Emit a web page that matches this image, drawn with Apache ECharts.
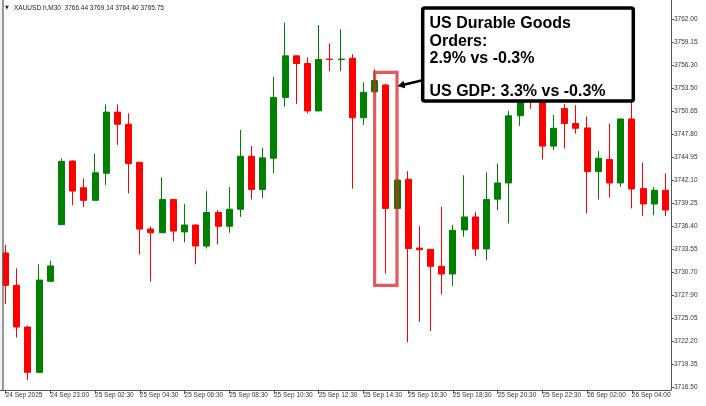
<!DOCTYPE html>
<html><head><meta charset="utf-8">
<script src="https://cdn.jsdelivr.net/npm/echarts@6/dist/echarts.min.js"></script>
<style>html,body{margin:0;padding:0;background:#fff}#c{width:706px;height:406px}</style>
</head><body><div id="c"></div>
<script>
const categories = [
 "24 Sep 21:00","24 Sep 21:30","24 Sep 22:00","24 Sep 22:30","24 Sep 23:00",
 "25 Sep 01:00","25 Sep 01:30","25 Sep 02:00","25 Sep 02:30","25 Sep 03:00","25 Sep 03:30","25 Sep 04:00","25 Sep 04:30",
 "25 Sep 05:00","25 Sep 05:30","25 Sep 06:00","25 Sep 06:30","25 Sep 07:00","25 Sep 07:30","25 Sep 08:00","25 Sep 08:30",
 "25 Sep 09:00","25 Sep 09:30","25 Sep 10:00","25 Sep 10:30","25 Sep 11:00","25 Sep 11:30","25 Sep 12:00","25 Sep 12:30",
 "25 Sep 13:00","25 Sep 13:30","25 Sep 14:00","25 Sep 14:30","25 Sep 15:00","25 Sep 15:30","25 Sep 16:00","25 Sep 16:30",
 "25 Sep 17:00","25 Sep 17:30","25 Sep 18:00","25 Sep 18:30","25 Sep 19:00","25 Sep 19:30","25 Sep 20:00","25 Sep 20:30",
 "25 Sep 21:00","25 Sep 21:30","25 Sep 22:00","25 Sep 22:30","25 Sep 23:00",
 "26 Sep 01:00","26 Sep 01:30","26 Sep 02:00","26 Sep 02:30","26 Sep 03:00","26 Sep 03:30","26 Sep 04:00","26 Sep 04:30",
 "26 Sep 05:00","26 Sep 05:30"
];
const openP  = [3733.10,3729.10,3723.95,3718.35,3729.60,3736.60,3744.45,3741.15,3739.60,3742.95,
                3750.50,3749.00,3744.30,3736.05,3735.60,3739.70,3735.70,3736.55,3733.95,3738.10,
                3736.40,3738.50,3745.05,3740.95,3744.80,3752.30,3757.45,3756.50,3750.65,3757.05,
                3757.00,3757.15,3749.80,3753.00,3753.85,3738.60,3742.20,3733.70,3733.55,3731.45,
                3730.50,3735.95,3737.55,3733.60,3739.75,3741.75,3750.05,3754.20,3753.20,3746.30,
                3750.95,3749.10,3748.55,3743.15,3744.65,3741.75,3749.65,3741.05,3739.15,3740.85];
const highP  = [3734.10,3731.20,3724.10,3731.70,3732.15,3744.80,3744.55,3742.30,3745.40,3751.45,
                3751.45,3750.35,3744.35,3736.35,3742.45,3739.75,3739.15,3736.60,3740.75,3738.40,
                3741.25,3748.30,3746.30,3746.10,3754.85,3761.55,3757.50,3757.25,3761.25,3759.00,
                3760.75,3757.65,3754.15,3755.80,3754.00,3742.20,3743.20,3736.40,3733.60,3738.80,
                3736.55,3742.70,3738.20,3743.05,3744.15,3750.65,3754.00,3755.60,3754.80,3750.15,
                3751.50,3751.35,3749.95,3745.70,3749.10,3749.70,3752.50,3744.25,3741.25,3742.95];
const lowP   = [3726.80,3722.65,3717.40,3718.30,3729.55,3736.55,3739.00,3738.80,3739.55,3741.50,
                3746.45,3740.45,3732.90,3729.55,3735.55,3734.50,3734.40,3731.70,3733.65,3734.15,
                3735.60,3737.55,3739.70,3739.90,3742.95,3751.15,3751.50,3750.35,3750.60,3755.55,
                3755.55,3741.05,3748.90,3752.95,3730.55,3738.55,3722.05,3724.60,3723.45,3728.00,
                3729.00,3735.10,3732.70,3732.20,3738.40,3736.75,3748.80,3750.90,3744.65,3745.80,
                3746.00,3747.85,3738.00,3739.70,3739.95,3741.25,3738.60,3737.65,3737.75,3737.65];
const closeP = [3729.10,3723.95,3718.35,3729.75,3731.50,3744.40,3740.75,3739.60,3743.00,3750.50,
                3749.00,3744.15,3736.05,3735.60,3739.70,3735.80,3736.55,3733.95,3738.10,3736.40,
                3738.50,3745.05,3740.95,3744.85,3752.30,3757.45,3756.50,3750.65,3757.00,3757.00,
                3757.05,3749.80,3752.95,3754.40,3738.60,3742.10,3733.65,3733.50,3731.45,3730.50,
                3735.90,3737.55,3733.60,3739.70,3741.75,3750.05,3752.60,3752.40,3746.30,3748.50,
                3749.10,3748.50,3743.15,3744.80,3741.75,3749.65,3741.00,3739.15,3740.85,3738.40];
const xTickLabels = ["24 Sep 2025","24 Sep 23:00","25 Sep 02:30","25 Sep 04:30","25 Sep 06:30","25 Sep 08:30",
  "25 Sep 10:30","25 Sep 12:30","25 Sep 14:30","25 Sep 16:30","25 Sep 18:30","25 Sep 20:30","25 Sep 22:30",
  "26 Sep 02:00","26 Sep 04:00"];
const yTickLabels = [3716.50,3719.35,3722.20,3725.05,3727.90,3730.70,3733.55,3736.40,3739.25,3742.10,
  3744.95,3747.80,3750.65,3753.50,3756.30,3759.15,3762.00];
const headerText = "XAUUSD.h,M30  3766.44 3769.14 3764.40 3765.75";
const noteLines = ["US Durable Goods", "Orders:", "2.9% vs -0.3%", "", "US GDP: 3.3% vs -0.3%"];
const highlightFrom = 33, highlightTo = 35, highlightTop = 3755.4, highlightBottom = 3729.1;

const candleData = openP.map((o, i) => [o, closeP[i], lowP[i], highP[i]]);
const chart = echarts.init(document.getElementById('c'), null, {renderer: 'canvas'});
const lblFont = 'Liberation Sans, Arial, sans-serif';
chart.setOption({
  animation: false,
  backgroundColor: '#ffffff',
  grid: {left: -1.7, right: 35, top: 0, bottom: 16, containLabel: false},
  xAxis: {
    type: 'category', data: categories, boundaryGap: true,
    axisLine: {show: true, lineStyle: {color: '#555', width: 1}},
    axisTick: {show: true, interval: 3, alignWithLabel: true, length: 4, lineStyle: {color: '#555'}},
    axisLabel: {interval: 3, align: 'left', margin: 2, fontSize: 6.5, color: '#333', fontFamily: lblFont,
      formatter: (v, idx) => (idx % 4 === 0 ? xTickLabels[idx / 4] : '')},
    splitLine: {show: false}
  },
  yAxis: {
    type: 'value', position: 'right', min: 3716.17, max: 3764.35, scale: true,
    axisLine: {show: true, lineStyle: {color: '#555', width: 1}},
    axisTick: {show: true, length: 3, customValues: yTickLabels, lineStyle: {color: '#555'}},
    axisLabel: {customValues: yTickLabels, margin: 3, fontSize: 6.5, color: '#333', fontFamily: lblFont,
      formatter: v => Number(v).toFixed(2)},
    splitLine: {show: false}
  },
  series: [{
    type: 'candlestick', data: candleData, barWidth: 6.5,
    itemStyle: {color: '#008000', color0: '#ff0000', borderColor: '#008000', borderColor0: '#ff0000', borderWidth: 1}
  }]
});

const pA = chart.convertToPixel({gridIndex: 0}, [categories[highlightFrom], highlightTop]);
const pB = chart.convertToPixel({gridIndex: 0}, [categories[highlightTo], highlightBottom]);
const fontB = 'bold 16px "Liberation Sans", Arial, sans-serif';
const noteY = [24.0, 41.7, 58.4, 75.0, 91.7];
const graphics = [
  {type: 'rect', shape: {x: 0, y: 0, width: 2.5, height: 390}, style: {fill: '#f2f2f2'}, z: 100},
  {type: 'line', shape: {x1: 3, y1: 0, x2: 3, y2: 390}, style: {stroke: '#555', lineWidth: 1.2}, z: 100},
  {type: 'text', x: 5, y: 8, style: {text: '\u25BC', font: '5px "DejaVu Sans", sans-serif', fill: '#222', textVerticalAlign: 'middle'}, z: 100},
  {type: 'text', x: 14, y: 8, style: {text: headerText, font: '6.5px "Liberation Sans", Arial, sans-serif', fill: '#222', textVerticalAlign: 'middle'}, z: 100},
  {type: 'rect', shape: {x: pA[0], y: pA[1], width: pB[0] - pA[0], height: pB[1] - pA[1]},
    style: {fill: 'none', stroke: 'rgba(220,35,35,0.75)', lineWidth: 3.2}, z: 110},
  {type: 'rect', shape: {x: 422.7, y: 8, width: 210.6, height: 93, r: 2},
    style: {fill: '#ffffff', stroke: '#000', lineWidth: 3.5}, z: 120},
  {type: 'line', shape: {x1: 421.5, y1: 80.6, x2: 403.5, y2: 84.7}, style: {stroke: '#000', lineWidth: 2.6}, z: 121},
  {type: 'polygon', shape: {points: [[397.5, 86.2], [405.3, 88.2], [403.6, 80.8]]}, style: {fill: '#000'}, z: 121}
];
noteLines.forEach((t, i) => {
  if (t) graphics.push({type: 'text', x: 429.5, y: noteY[i], style: {text: t, font: fontB, fill: '#000', textVerticalAlign: 'middle'}, z: 122});
});
chart.setOption({graphic: graphics});
</script></body></html>
